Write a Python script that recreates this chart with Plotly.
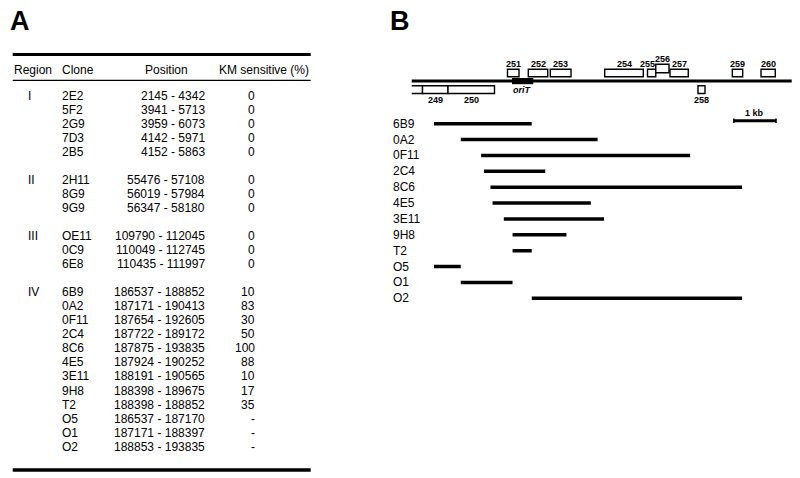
import plotly.graph_objects as go

W, H = 800, 478
FONT = "Liberation Sans, Arial, Helvetica, sans-serif"

# ---------------- data ----------------
region_names = ["I", "II", "III", "IV"]
region_sizes = [5, 3, 3, 12]
clone_names = ["2E2", "5F2", "2G9", "7D3", "2B5",
               "2H11", "8G9", "9G9",
               "OE11", "0C9", "6E8",
               "6B9", "0A2", "0F11", "2C4", "8C6", "4E5", "3E11", "9H8", "T2", "O5", "O1", "O2"]
clone_start = [2145, 3941, 3959, 4142, 4152,
               55476, 56019, 56347,
               109790, 110049, 110435,
               186537, 187171, 187654, 187722, 187875, 187924, 188191, 188398, 188398, 186537, 187171, 188853]
clone_end = [4342, 5713, 6073, 5971, 5863,
             57108, 57984, 58180,
             112045, 112745, 111997,
             188852, 190413, 192605, 189172, 193835, 190252, 190565, 189675, 188852, 187170, 188397, 193835]
km_sensitive = ["0", "0", "0", "0", "0",
                "0", "0", "0",
                "0", "0", "0",
                "10", "83", "30", "50", "100", "88", "10", "17", "35", "-", "-", "-"]
headers = ["Region", "Clone", "Position", "KM sensitive (%)"]

# gene map (bp)
map_start, map_end = 186009, 195011
gene_names = ["251", "252", "253", "254", "255", "256", "257", "259", "260", "249", "250", "258"]
gene_start = [188278, 188771, 189292, 190581, 191595, 191791, 192128, 193604, 194284, 186265, 186869, 192791]
gene_end = [188551, 189231, 189783, 191495, 191791, 192104, 192561, 193850, 194622, 186869, 187970, 192957]
gene_track = [1, 1, 1, 1, 1, 2, 1, 1, 1, -1, -1, -1]
partial_gene = [186009, 186265]
orit_start, orit_end = 188385, 188889
scale_start, scale_end = 193640, 194640

# ---------------- helpers ----------------
def px(x):
    return x / W

def py(y):
    return 1 - y / H

fig = go.Figure()
annotations = []
shapes = []

def txt(x, y, text, size=12, anchor="left", bold=False, xref="paper", yref="paper", italic=False, xshift=0):
    t = text
    if bold:
        t = "<b>" + t + "</b>"
    if italic:
        t = "<i>" + t + "</i>"
    annotations.append(dict(x=x, y=y, xref=xref, yref=yref, text=t, showarrow=False,
                            xanchor=anchor, yanchor="middle", xshift=xshift,
                            font=dict(family=FONT, size=size, color="black")))

# ---------------- panel A : table ----------------
txt(px(8), py(21.5), "A", size=27, bold=True)
TL, TR = 12.7, 310.7
shapes.append(dict(type="line", xref="paper", yref="paper", x0=px(TL), x1=px(TR), y0=py(54.5), y1=py(54.5),
                   line=dict(color="black", width=3)))
shapes.append(dict(type="line", xref="paper", yref="paper", x0=px(TL), x1=px(TR), y0=py(80.3), y1=py(80.3),
                   line=dict(color="black", width=1.2)))
shapes.append(dict(type="line", xref="paper", yref="paper", x0=px(TL), x1=px(TR), y0=py(470), y1=py(470),
                   line=dict(color="black", width=3.5)))
hy = 70
txt(px(12.3), py(hy), headers[0])
txt(px(60), py(hy), headers[1])
txt(px(166.7), py(hy), headers[2], anchor="center")
txt(px(311), py(hy), headers[3], anchor="right")

row0, rstep = 95.7, 14.04
k = 0
ci = 0
for g, (rname, n) in enumerate(zip(region_names, region_sizes)):
    for i in range(n):
        y = row0 + rstep * k
        if i == 0:
            txt(px(26), py(y), rname)
        txt(px(60), py(y), clone_names[ci])
        txt(px(206.5), py(y), f"{clone_start[ci]} - {clone_end[ci]}", anchor="right")
        txt(px(256.5), py(y), km_sensitive[ci], anchor="right")
        k += 1
        ci += 1
    k += 1

# ---------------- panel B : map ----------------
txt(px(388), py(21.5), "B", size=27, bold=True)

map_clones = clone_names[11:]
map_cs = clone_start[11:]
map_ce = clone_end[11:]

for idx, (name, s, e) in enumerate(zip(map_clones, map_cs, map_ce)):
    fig.add_trace(go.Scatter(x=[s, e], y=[name, name], mode="lines", xaxis="x", yaxis="y",
                             line=dict(color="black", width=3.5), hoverinfo="skip", showlegend=False))
    txt(px(391), idx, name, xref="paper", yref="y")

# map line on y2
fig.add_trace(go.Scatter(x=[map_start, map_end], y=[0, 0], mode="lines", xaxis="x", yaxis="y2",
                         line=dict(color="black", width=3), hoverinfo="skip", showlegend=False))

track_bot = {1: 4.3, 2: 8.3, -1: -12.5}
track_top = {1: 11.7, 2: 16.7, -1: -4.7}
label_y = {1: 17.4, 2: 22.3, -1: -19.0}
label_shift = {"255": -4}

# oriT
shapes.append(dict(type="rect", xref="x", yref="y2", x0=orit_start, x1=orit_end, y0=-3.2, y1=3.0,
                   fillcolor="black", line=dict(color="black", width=0)))
txt((orit_start + orit_end) / 2, -9.0, "oriT", size=9, anchor="center", bold=True, italic=True, xref="x", yref="y2")

# partial gene (open left end)
pb, pt = track_bot[-1], track_top[-1]
shapes.append(dict(type="path", xref="x", yref="y2",
                   path=f"M {partial_gene[0]},{pt} L {partial_gene[1]},{pt} L {partial_gene[1]},{pb} L {partial_gene[0]},{pb}",
                   line=dict(color="black", width=1.4)))

for name, s, e, tr in zip(gene_names, gene_start, gene_end, gene_track):
    shapes.append(dict(type="rect", xref="x", yref="y2", x0=s, x1=e, y0=track_bot[tr], y1=track_top[tr],
                       fillcolor="white", line=dict(color="black", width=1.4)))
    txt((s + e) / 2, label_y[tr], name, size=9, anchor="center", bold=True, xref="x", yref="y2",
        xshift=label_shift.get(name, 0))

# scale bar
sb_y = -39.7
shapes.append(dict(type="line", xref="x", yref="y2", x0=scale_start, x1=scale_end, y0=sb_y, y1=sb_y,
                   line=dict(color="black", width=3)))
for xx in (scale_start, scale_end):
    shapes.append(dict(type="line", xref="x", yref="y2", x0=xx, x1=xx, y0=sb_y - 2.2, y1=sb_y + 2.2,
                       line=dict(color="black", width=1.5)))
txt((scale_start + scale_end) / 2, -31.5, "1 kb", size=9, anchor="center", bold=True, xref="x", yref="y2")

# axes: x maps bp -> pixels (434 px at 186537, 23.69 bp/px)
bp_per_px = 23.69
x_lo = 186537 + (400 - 434) * bp_per_px
x_hi = 186537 + (800 - 434) * bp_per_px
rows_top, rows_bot = 123.7 - 7.94, 298.3 + 7.94
map_top, map_bot = 50, 125

fig.update_layout(
    width=W, height=H,
    margin=dict(l=0, r=0, t=0, b=0),
    paper_bgcolor="white", plot_bgcolor="rgba(0,0,0,0)",
    showlegend=False,
    xaxis=dict(domain=[0.5, 1.0], range=[x_lo, x_hi], visible=False, fixedrange=True),
    yaxis=dict(domain=[py(rows_bot), py(rows_top)], type="category", categoryorder="array",
               categoryarray=map_clones, range=[len(map_clones) - 0.5, -0.5], visible=False, anchor="x",
               fixedrange=True),
    yaxis2=dict(domain=[py(map_bot), py(map_top)], range=[81 - map_bot, 81 - map_top], visible=False,
                anchor="x", fixedrange=True),
    annotations=annotations,
    shapes=shapes,
)

fig.write_html("out.html", config={"displayModeBar": False},
               post_script="document.body.style.margin='0px';document.body.style.overflow='hidden';")
